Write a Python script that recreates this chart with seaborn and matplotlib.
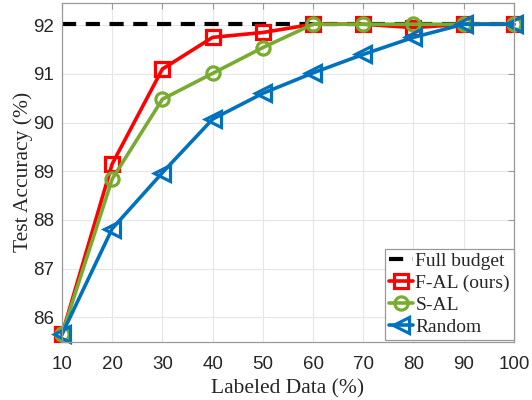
import matplotlib
matplotlib.use('Agg')
import matplotlib.pyplot as plt
import seaborn as sns
import pandas as pd

# values
labeled = [10, 20, 30, 40, 50, 60, 70, 80, 90, 100]
full_budget = 92.02
f_al = [85.65, 89.15, 91.1, 91.75, 91.85, 92.02, 92.02, 91.95, 92.02, 92.02]
s_al = [85.65, 88.84, 90.48, 91.01, 91.54, 92.02, 92.02, 92.02, 92.02, 92.02]
random_sel = [85.65, 87.82, 88.97, 90.07, 90.6, 91.02, 91.4, 91.75, 92.02, 92.02]

df = pd.DataFrame({'labeled': labeled, 'F-AL (ours)': f_al,
                   'S-AL': s_al, 'Random': random_sel})

sns.set_style('white')
serif = ['Liberation Serif', 'DejaVu Serif']
sans = ['Liberation Sans', 'DejaVu Sans']
plt.rcParams['font.family'] = sans

fig = plt.figure(figsize=(5.32, 4.0), dpi=100)
ax = fig.add_axes([0.1165, 0.146, 0.8495, 0.847])

ax.plot([labeled[0], labeled[-1]], [full_budget, full_budget], color='black',
        linestyle=(0, (3.4, 2.3)), linewidth=3, label='Full budget')

styles = [('F-AL (ours)', '#FF0000', 's'),
          ('S-AL', '#77AC30', 'o'),
          ('Random', '#0072BD', '<')]
for name, color, marker in styles:
    sns.lineplot(data=df, x='labeled', y=name, ax=ax, color=color, linewidth=2.6,
                 marker=marker, markersize=9.5 if marker != '<' else 12,
                 markerfacecolor='none', markeredgecolor=color, markeredgewidth=2.3,
                 label=name, clip_on=False)

ax.set_xlim(10, 100)
ax.set_ylim(85.5, 92.46)
ax.set_xticks(labeled)
ax.set_yticks([86, 87, 88, 89, 90, 91, 92])
ax.grid(True, color='#e6e6e6', linewidth=0.8)
ax.tick_params(direction='in', length=4, labelsize=13.5, colors='#9a9a9a',
               labelcolor='#262626', top=True, right=True, labeltop=False,
               labelright=False)
ax.tick_params(axis='x', pad=10.5)
ax.tick_params(axis='y', pad=6)
for s in ax.spines.values():
    s.set_color('#9a9a9a')
    s.set_linewidth(0.9)

ax.set_xlabel('Labeled Data (%)', family=serif, fontsize=15.5, color='#262626',
              labelpad=4)
ax.set_ylabel('Test Accuracy (%)', family=serif, fontsize=15.5, color='#262626',
              labelpad=0)

leg = ax.legend(loc='lower right', bbox_to_anchor=(1.0, 0.005),
                prop={'family': serif, 'size': 14},
                handlelength=1.25, handletextpad=0.1, borderpad=0.2,
                labelspacing=0.22, fancybox=False, framealpha=1,
                borderaxespad=0.0)
leg.get_frame().set_edgecolor('#9a9a9a')
leg.get_frame().set_linewidth(0.9)

fig.savefig('out.png', dpi=100)
